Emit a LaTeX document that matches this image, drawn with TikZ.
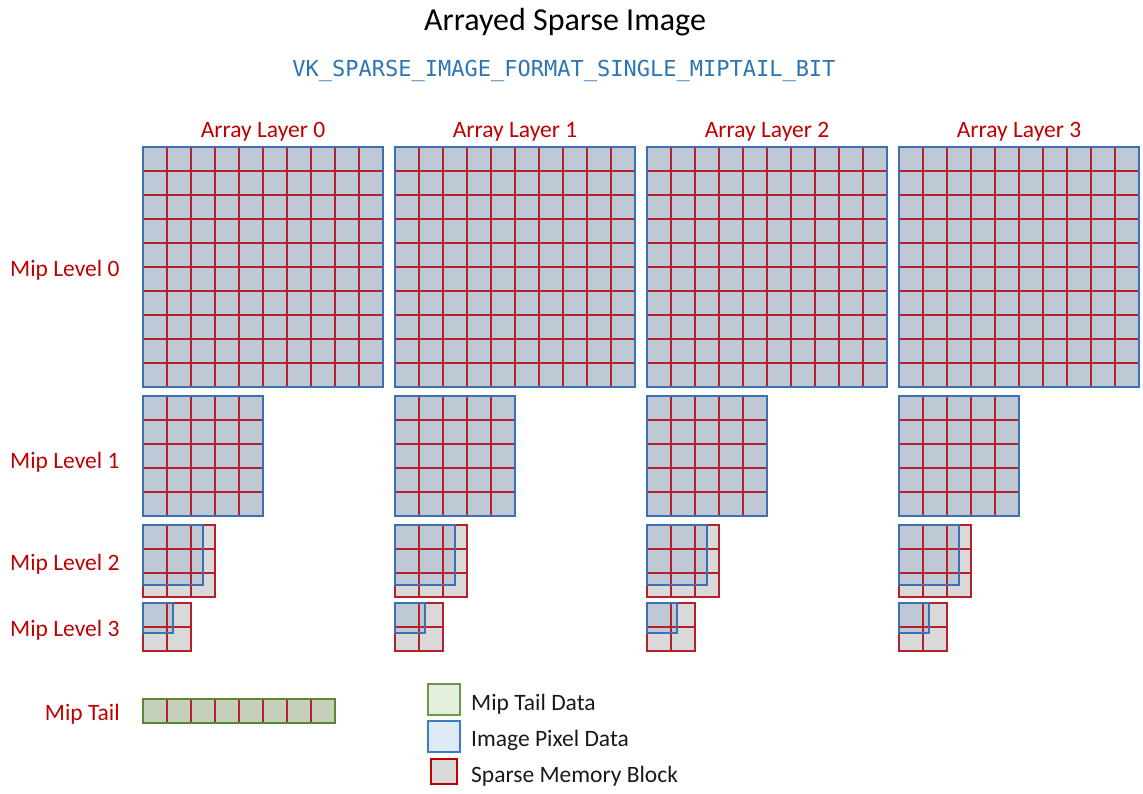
\documentclass[tikz,border=0pt]{standalone}
\usepackage{fontspec}
\setmainfont{Carlito}
\newfontfamily\codefont{DejaVu Sans Mono}
\definecolor{lblred}{HTML}{C00000}
\definecolor{gridred}{HTML}{B3222C}
\definecolor{imgblue}{HTML}{3D70B2}
\definecolor{pixfill}{HTML}{BFC9D5}
\definecolor{sparsegrey}{HTML}{D9D9D9}
\definecolor{tailfill}{HTML}{C5D0BB}
\definecolor{tailgreen}{HTML}{5A8638}
\definecolor{codeblue}{HTML}{2E75B6}
\definecolor{leggreenfill}{HTML}{E2EFDA}
\definecolor{leggreen}{HTML}{6A9A48}
\definecolor{legbluefill}{HTML}{DEEBF7}
\definecolor{legblue}{HTML}{3E7CC0}
\newcommand\mipblock[4]{%
  \fill[sparsegrey] (#1,#2) rectangle ++(#3*24,#3*24);
  \fill[pixfill] (#1,#2) rectangle ++(#4,#4);
  \pgfmathtruncatemacro\nm{#3-1}
  \foreach \i in {1,...,\nm}{
    \draw[redline] ({#1+\i*24},#2) -- ++(0,#3*24);
    \draw[redline] (#1,{#2+\i*24}) -- ++(#3*24,0);
  }
  \draw[redline] (#1,#2) rectangle ++(#3*24,#3*24);
  \draw[blueline] (#1,#2) rectangle ++(#4,#4);
}
\begin{document}
\begin{tikzpicture}[x=1pt,y=-1pt,
  redline/.style={draw=gridred,line width=2.2pt},
  blueline/.style={draw=imgblue,line width=2.6pt},
  lbl/.style={text=lblred,font=\fontsize{23.5}{28}\selectfont,inner sep=0pt},
  legtext/.style={text=black!90,font=\fontsize{23.5}{28}\selectfont,inner sep=0pt,anchor=west}]
\useasboundingbox (0,0) rectangle (1143,794);
\fill[white] (0,0) rectangle (1143,794);

\node[inner sep=0pt,font=\fontsize{32}{38}\selectfont] (title) at (565,22) {Arrayed Sparse Image};
\node[inner sep=0pt,text=codeblue,font=\codefont\fontsize{22}{26}\selectfont] (fmt) at (564,71) {VK\_SPARSE\_IMAGE\_FORMAT\_SINGLE\_MIPTAIL\_BIT};

\foreach \L in {0,1,2,3}{
  \pgfmathsetmacro\xo{143+252*\L}
  \node[lbl] (layer\L) at ({263+252*\L},132) {Array Layer \L};
  \mipblock{\xo}{147}{10}{240}
  \mipblock{\xo}{396}{5}{120}
  \mipblock{\xo}{525}{3}{60}
  \mipblock{\xo}{603}{2}{30}
}

\node[lbl,anchor=west] (mip0) at (10,270) {Mip Level 0};
\node[lbl,anchor=west] (mip1) at (10,462) {Mip Level 1};
\node[lbl,anchor=west] (mip2) at (10,564) {Mip Level 2};
\node[lbl,anchor=west] (mip3) at (10,630) {Mip Level 3};
\node[lbl,anchor=east] (miptail) at (120,714) {Mip Tail};

% mip tail
\fill[tailfill] (143,699) rectangle ++(192,24);
\foreach \i in {1,...,7}{
  \draw[redline] ({143+\i*24},699) -- ++(0,24);
}
\draw[draw=tailgreen,line width=2.6pt] (143,699) rectangle ++(192,24);

% legend
\draw[fill=leggreenfill,draw=leggreen,line width=2pt] (428,684) rectangle (460,715);
\draw[fill=legbluefill,draw=legblue,line width=2pt] (428,721) rectangle (460,752);
\draw[fill=sparsegrey,draw=lblred,line width=2pt] (431,759) rectangle (457,784);
\node[legtext] (legtail) at (471,704) {Mip Tail Data};
\node[legtext] (legpix) at (471,740) {Image Pixel Data};
\node[legtext] (legsparse) at (471,776) {Sparse Memory Block};
\end{tikzpicture}
\end{document}
